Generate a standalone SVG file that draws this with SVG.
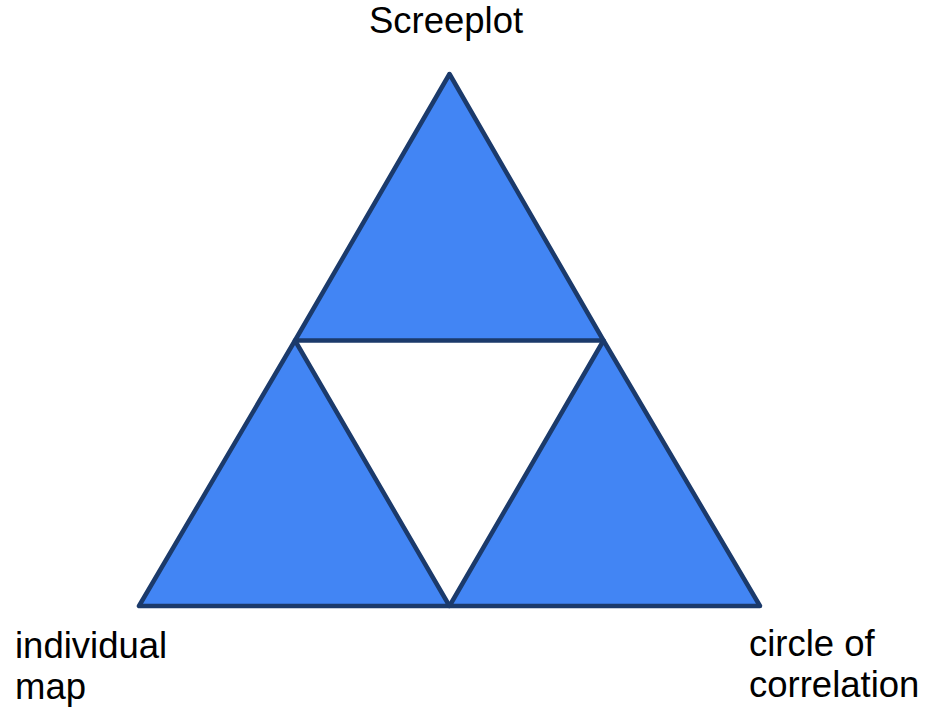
<svg xmlns="http://www.w3.org/2000/svg" width="927" height="709" viewBox="0 0 927 709">
<style>
.tri{fill:#4285f4;stroke:#1b3a6b;stroke-width:4.5;stroke-linejoin:round}
.lbl{font-family:"Liberation Sans",Arial,sans-serif;font-size:36.5px;fill:#000}
</style>
<rect width="927" height="709" fill="#fff"/>
<g id="top-triangle"><polygon class="tri" points="449.5,74 295,340.5 603.5,340.5"/></g>
<g id="left-triangle"><polygon class="tri" points="295,340.5 139,606 449.5,606"/></g>
<g id="right-triangle"><polygon class="tri" points="603.5,340.5 449.5,606 760,606"/></g>
<g id="labels">
<text class="lbl" x="446" y="33" text-anchor="middle">Screeplot</text>
<text class="lbl" x="15" y="658">individual</text>
<text class="lbl" x="15" y="699">map</text>
<text class="lbl" x="749" y="656">circle of</text>
<text class="lbl" x="749" y="697">correlation</text>
</g>
</svg>
